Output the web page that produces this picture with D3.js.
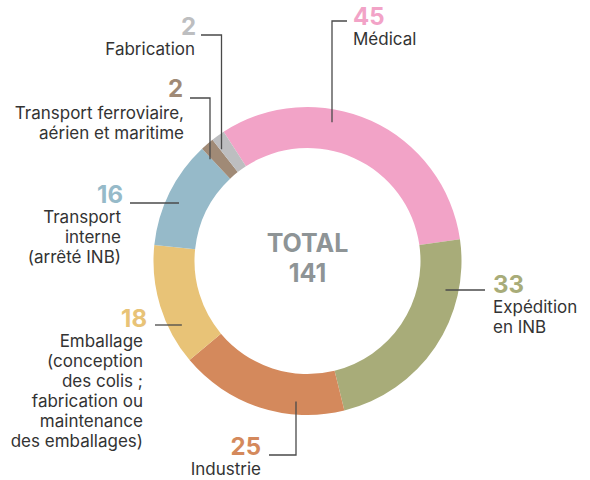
<!DOCTYPE html>
<html>
<head>
<meta charset="utf-8">
<script src="https://cdn.jsdelivr.net/npm/d3@7"></script>
<style>
  body { margin: 0; background: #fff; }
  svg text { font-family: Inter, "Noto Sans", sans-serif; }
</style>
</head>
<body>
<div id="chart"></div>
<script>
// data, clockwise from the top
var categories = ["Médical", "Expédition en INB", "Industrie",
  "Emballage (conception des colis ; fabrication ou maintenance des emballages)",
  "Transport interne (arrêté INB)", "Transport ferroviaire, aérien et maritime", "Fabrication"];
var values = [45, 33, 25, 18, 16, 2, 2];
var labelLines = [
  ["Médical"],
  ["Expédition", "en INB"],
  ["Industrie"],
  ["Emballage", "(conception", "des colis ;", "fabrication ou", "maintenance", "des emballages)"],
  ["Transport", "interne", "(arrêté INB)"],
  ["Transport ferroviaire,", "aérien et maritime"],
  ["Fabrication"]
];
var colors = ["#f2a3c7", "#a8ac79", "#d4895c", "#e8c377", "#96bac9", "#a08a76", "#bdbec0"];
var total = d3.sum(values);

// layout of labels (number position, text anchor, leader start / elbow)
var layout = [
  {nx: 353, ny: 25, anchor: "start", lx0: 347, ly: 21, elbow: 332, side: -1},
  {nx: 493, ny: 293, anchor: "start", lx0: 485, ly: 290, elbow: null, side: 1},
  {nx: 261, ny: 455, anchor: "end", lx0: 269, ly: 455, elbow: 296, side: 1},
  {nx: 147, ny: 327, anchor: "end", tx: 143, lx0: 155, ly: 325, elbow: null, side: -1},
  {nx: 123, ny: 203, anchor: "end", tx: 121, lx0: 130, ly: 203, elbow: null, side: -1},
  {nx: 183, ny: 97, anchor: "end", tx: 184, lx0: 190, ly: 98, elbow: 210, side: -1},
  {nx: 196, ny: 35, anchor: "end", tx: 195, lx0: 201, ly: 35, elbow: 221.5, side: -1}
];

var width = 590, height = 480;
var cx = 307.5, cy = 261;
var rOuter = 154, rInner = 113, rLead = 141;
var startDeg = -33;

var svg = d3.select("#chart").append("svg")
  .attr("width", width)
  .attr("height", height);

var color = d3.scaleOrdinal().domain(categories).range(colors);

var pie = d3.pie()
  .sort(null)
  .value(function(d) { return d; })
  .startAngle(startDeg * Math.PI / 180)
  .endAngle((startDeg + 360) * Math.PI / 180);

var arc = d3.arc().innerRadius(rInner).outerRadius(rOuter);

var g = svg.append("g").attr("transform", "translate(" + cx + "," + cy + ")");

g.selectAll("path.slice")
  .data(pie(values))
  .enter().append("path")
  .attr("class", "slice")
  .attr("d", arc)
  .attr("fill", function(d, i) { return color(categories[i]); });

// total in the middle
g.append("text")
  .attr("text-anchor", "middle")
  .attr("y", -9)
  .style("font-size", "25px")
  .style("font-weight", 700)
  .style("fill", "#8e9496")
  .text("TOTAL");
g.append("text")
  .attr("text-anchor", "middle")
  .attr("y", 21)
  .style("font-size", "25px")
  .style("font-weight", 700)
  .style("fill", "#8e9496")
  .text(total);

// leader lines
function leader(L) {
  var pts = [[L.lx0, L.ly]];
  if (L.elbow == null) {
    var dy = L.ly - cy;
    var dx = Math.sqrt(rLead * rLead - dy * dy);
    pts.push([cx + L.side * dx, L.ly]);
  } else {
    pts.push([L.elbow, L.ly]);
    var ddx = L.elbow - cx;
    var ddy = Math.sqrt(rLead * rLead - ddx * ddx);
    pts.push([L.elbow, cy + L.side * ddy]);
  }
  return d3.line()(pts);
}

svg.selectAll("path.leader")
  .data(layout)
  .enter().append("path")
  .attr("class", "leader")
  .attr("d", leader)
  .attr("fill", "none")
  .attr("stroke", "#4a4a4a")
  .attr("stroke-width", 1.3);

var labels = svg.selectAll("g.label")
  .data(layout)
  .enter().append("g")
  .attr("class", "label");

labels.append("text")
  .attr("x", function(d) { return d.nx; })
  .attr("y", function(d) { return d.ny; })
  .attr("text-anchor", function(d) { return d.anchor; })
  .style("font-size", "24px")
  .style("font-weight", 700)
  .style("fill", function(d, i) { return colors[i]; })
  .text(function(d, i) { return values[i]; });

labels.append("text")
  .attr("text-anchor", function(d) { return d.anchor; })
  .style("font-size", "17px")
  .style("fill", "#333")
  .each(function(d, i) {
    var t = d3.select(this);
    labelLines[i].forEach(function(line, k) {
      t.append("tspan")
        .attr("x", d.tx != null ? d.tx : d.nx)
        .attr("y", d.ny + 20 * (k + 1) + (i === 5 ? 2 : 0))
        .text(line);
    });
  });
</script>
</body>
</html>
